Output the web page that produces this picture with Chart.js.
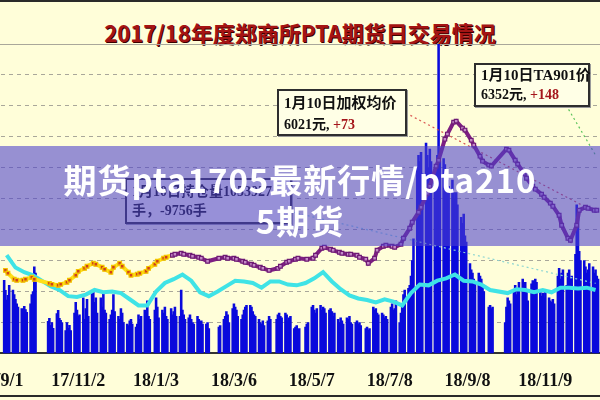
<!DOCTYPE html>
<html>
<head>
<meta charset="utf-8">
<script src="https://cdn.jsdelivr.net/npm/chart.js@4"></script>
<style>
  body { margin:0; width:600px; height:400px; overflow:hidden; position:relative; background:#FFFED9; font-family:"Noto Sans CJK SC", sans-serif; }
  #wrap { position:absolute; left:-60px; top:0; width:720px; height:417px; }
  .rule { position:absolute; left:0; width:600px; height:2px; background:#2a2a2a; }
  #title { position:absolute; left:0; width:600px; top:21px; line-height:22px; text-align:center; font-size:22px; font-weight:bold; color:#A51414; text-shadow:1px 1px 0 #3a0000; white-space:nowrap; }
  .box { position:absolute; box-sizing:border-box; border:2px solid #2e2e2e; background:#FFFFE6; font-family:"Liberation Serif","Noto Sans CJK SC",serif; font-weight:bold; color:#111; box-shadow:1px 1px 0 #9a9a9a; padding:2px 0 0 5px; }
  .box div { white-space:nowrap; line-height:21px; }
  .red { color:#A5161B; }
  #band { position:absolute; left:0; top:146px; width:600px; height:100px; background:rgba(76,64,205,0.58); }
  #bandText { position:absolute; left:0; top:159px; width:600px; text-align:center; color:#fff; font-size:33px; line-height:41px; font-weight:bold; letter-spacing:1px; white-space:nowrap; }
</style>
</head>
<body>
<div class="rule" style="top:0"></div>
<div id="title">2017/18年度郑商所PTA期货日交易情况</div>
<div id="wrap"><canvas id="c"></canvas></div>

<div class="box" style="left:277px;top:89px;width:130px;height:47px;">
  <div style="font-size:15px">1月10日加权均价</div>
  <div style="font-size:14px">6021元, <span class="red">+73</span></div>
</div>
<div class="box" style="left:474px;top:63px;width:116px;height:44px;padding-top:1px;">
  <div style="font-size:15px;line-height:19px">1月10日TA901价</div>
  <div style="font-size:14px;line-height:20px">6352元, <span class="red">+148</span></div>
</div>
<div class="box" style="left:125px;top:178px;width:167px;height:46px;">
  <div style="font-size:14px;line-height:19px">1月10日持仓量1053927</div>
  <div style="font-size:14px;line-height:19px">手，-9756手</div>
</div>

<div id="band"></div>
<div id="bandText">期货pta1705最新行情/pta210<br>5期货</div>
<div class="rule" style="top:395px"></div>

<script>
// x 轴: 自 2017/9/1 起的自然日, 每周一 = 3 + 7*周序号
const tickDays = [0, 62, 124, 186, 248, 310, 372, 434];
const tickLabels = ['17/9/1', '17/11/2', '18/1/3', '18/3/6', '18/5/7', '18/7/8', '18/9/8', '18/11/9'];

// 日成交量 (万手), 每周一至周五, null = 休市
const volWeeks = [
  [236, 204, 172, 188, 220], [205, 190, 175, 160, 150], [145, 139, 152, 142, 133], [160, 190, 200, 280, 260],
  [null, null, null, null, null], [104, 113, 91, 100, 81], [129, 139, 113, 107, 100], [74, 100, 81, 91, 74],
  [130, 165, 140, 120, 125], [180, 110, 145, 175, 120], [195, 200, 165, 180, 130], [180, 150, 195, 140, 130],
  [110, 125, 140, 190, 135], [120, 110, 145, 130, 100], [95, 90, 105, 110, 95], [85, 95, 125, 110, 120],
  [140, 130, 170, 120, 110], [null, 140, 180, 150, 115], [140, 130, 150, 120, 110], [145, 125, 135, 150, 120],
  [120, 205, 140, 125, 110], [115, 125, 110, 100, 95], [120, 110, 100, 105, 95], [95, 100, 80, null, null],
  [null, null, null, 85, 90], [110, 120, 135, 125, 100], [145, 160, 150, 140, 120], [110, 125, 140, 150, 155],
  [155, 150, 135, 125, 120], [110, 100, 95, 105, 90], [105, 120, 110, null, null], [110, 125, 130, 120, 115],
  [130, 125, 105, 115, 120], [80, 85, 90, 75, 80], [null, null, 85, 95, 100], [150, 155, 140, 130, 145],
  [155, 140, 150, 145, 130], [140, 145, 135, 120, 130], [110, 100, 115, 105, 95], [115, 110, 120, 100, 95],
  [100, 105, 95, 100, 90], [null, 80, 85, 75, 80], [150, 140, 145, 130, 125], [130, 125, 115, 120, 110],
  [150, 160, 140, 145, 170], [100, 130, 160, 190, 205], [210, 220, 250, 300, 370], [600, 640, 620, 650, 580],
  [680, 640, 600, 660, 620], [560, 600, 640, 1000, 620], [630, 610, 590, 560, 540], [560, 520, 500, 520, 480],
  [440, 420, 450, 380, 360], [290, 270, 260, 240, 230], [260, 250, 240, 220, 200], [null, 150, 155, 145, 150],
  [null, null, null, null, null], [100, 150, 180, 170, 160], [200, 220, 190, 210, 230], [240, 180, 230, 200, 170],
  [225, 235, 220, 240, 230], [200, 185, 195, 180, 205], [180, 170, 165, 175, 160], [250, 275, 240, 260, 270],
  [220, 260, 270, 240, 250], [320, 480, 440, 330, 300], [300, 280, 260, 270, 290], [280, 260, 270, 250, 240]
];

// 持仓量 (万手), 每周三
const oiWeekly = [
  127, 111, 105, 101, null, 87, 82, 74, 73, 76, 82, 79, 80, 78, 70, 62, 62,
  80, 91, 96, 102, 94, 79, 74, 80, 87, 94, 93, 91, 85, 93, 93, 89, 88, 91,
  97, 105, 93, 83, 75, 71, 69, 66, 70, 67, 62, 78, 89, 88, 94, 97, 102, 94,
  93, 89, 82, null, 78, 83, 82, 79, 82, 79, 85, 85, 84, 85, 82
];

// 加权均价 (元/吨), 每周二、周四
const priceWeekly = [
  [5074, 5036], [4958, 4945], [4945, 4958], [4984, 4958], [null, null], [4906, 4893], [4880, 4893],
  [4919, 4945], [5010, 5061], [5100, 5126], [5165, 5152], [5113, 5087], [5049, 5113], [5165, 5126],
  [5049, 5010], [5023, 5036], [5061, 5100], [5152, 5191], [5230, 5243], [5269, 5282], [5295, 5282],
  [5269, 5256], [5243, 5230], [5191, null], [null, 5230], [5243, 5230], [5230, 5217], [5191, 5178],
  [5152, 5139], [5113, 5100], [5074, null], [5100, 5126], [5178, 5191], [5217, 5230], [null, 5217],
  [5230, 5269], [5359, 5372], [5346, 5333], [5307, 5295], [5282, 5282], [5269, 5243], [5217, 5165],
  [5230, 5333], [5385, 5398], [5385, 5372], [5411, 5489], [5618, 5696], [5825, 5890], [6071, 6162],
  [6421, 6498], [6770, 6835], [6990, 7003], [6913, 6887], [6757, 6693], [6550, 6485], [6434, 6421],
  [null, null], [6641, 6628], [6498, 6447], [6330, 6265], [6162, 6123], [6058, 6019], [5942, 5903],
  [5786, 5657], [5489, 5463], [5657, 5851], [5890, 5877], [5851, 5851]
];

// 标注引线 (日, 数值)
const redGuide = [{x: 323, y: 7107}, {x: 474, y: 5825}];
const greenGuide = [{x: 450.5, y: 7210}, {x: 474, y: 6563}];
const tealGuide = [{x: 233, y: 182.5}, {x: 474, y: 90.6}];

const volData = [];
volWeeks.forEach((wk, w) => wk.forEach((v, i) => { if (v !== null) volData.push({x: 3 + 7 * w + i, y: v}); }));
const oiData = oiWeekly.map((v, w) => ({x: 5 + 7 * w, y: v}));
const priceData = [];
priceWeekly.forEach((p, w) => { priceData.push({x: 4 + 7 * w, y: p[0]}); priceData.push({x: 6 + 7 * w, y: p[1]}); });

const YELLOW_END = 137;
const dashFor = ctx => (ctx.tick && ctx.tick.value === 1000) ? [] : [4, 4];

new Chart(document.getElementById('c').getContext('2d'), {
  type: 'bar',
  data: {
    datasets: [
      {
        type: 'line', label: '加权均价', data: priceData, yAxisID: 'yP', order: 0,
        borderWidth: 4, spanGaps: true, tension: 0,
        segment: { borderColor: c => c.p0.parsed.x < YELLOW_END ? '#FFE01A' : '#7E1F82' },
        pointStyle: 'rect', pointRadius: 2.6, pointBorderWidth: 1.2,
        pointBorderColor: c => c.raw && c.raw.x < YELLOW_END ? '#F2C400' : '#6E1A74',
        pointBackgroundColor: c => c.raw && c.raw.x < YELLOW_END ? '#D2401A' : '#C58AC8'
      },
      {
        type: 'line', label: '持仓量', data: oiData, yAxisID: 'yOI', order: 1,
        borderColor: '#3FE3E6', borderWidth: 4, pointRadius: 0, spanGaps: true, tension: 0
      },
      { type: 'line', data: redGuide, yAxisID: 'yP', order: 2, borderColor: '#D9534F', borderWidth: 1.2, borderDash: [2, 3], pointRadius: 0 },
      { type: 'line', data: greenGuide, yAxisID: 'yP', order: 2, borderColor: '#5CC45C', borderWidth: 1.2, borderDash: [2, 3], pointRadius: 0 },
      { type: 'line', data: tealGuide, yAxisID: 'yOI', order: 2, borderColor: '#8FD6D2', borderWidth: 1.2, borderDash: [2, 3], pointRadius: 0 },
      {
        type: 'bar', label: '成交量', data: volData, yAxisID: 'yV', order: 3,
        backgroundColor: '#0A0ADC', borderWidth: 0, barThickness: 1.9
      }
    ]
  },
  options: {
    responsive: true,
    maintainAspectRatio: false,
    animation: false,
    layout: { padding: { top: 44, bottom: 8, left: 0, right: 0 } },
    plugins: { legend: { display: false }, tooltip: { enabled: false }, title: { display: false } },
    scales: {
      x: {
        type: 'linear', min: -43.96, max: 521.19, offset: false,
        afterBuildTicks: s => { s.ticks = tickDays.map(v => ({value: v})); },
        ticks: {
          autoSkip: false, maxRotation: 0, padding: 17, color: '#111',
          font: { family: 'Liberation Serif', size: 18, weight: 'bold' },
          callback: (v, i) => tickLabels[i]
        },
        grid: { display: false, drawTicks: false },
        border: { display: true, color: '#333', width: 2 }
      },
      yV: {
        position: 'left', min: 0, max: 1000,
        ticks: { display: false, stepSize: 100 },
        grid: { color: '#A9A79A', lineWidth: 1, drawTicks: false },
        border: { display: false, dash: dashFor }
      },
      yOI: { display: false, min: 0, max: 400 },
      yP: { display: false, min: 4000, max: 8000 }
    }
  }
});
</script>
</body>
</html>
